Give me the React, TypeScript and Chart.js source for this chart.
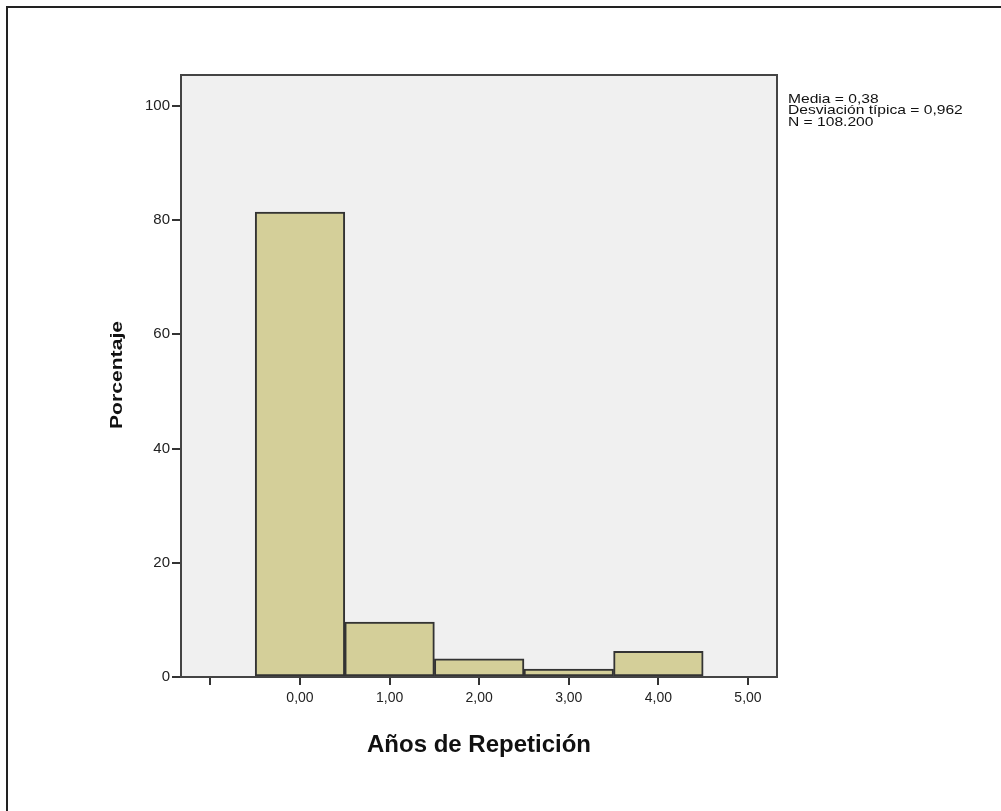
import React, { useEffect, useRef } from "react";
import { Chart, registerables } from "chart.js";

Chart.register(...registerables);

const binCenters = [0, 1, 2, 3, 4];
const percentages = [81.4, 9.6, 3.2, 1.4, 4.5];
const xTickValues = [-1, 0, 1, 2, 3, 4, 5];
const yTickValues = [0, 20, 40, 60, 80, 100];
const statsLines = ["Media = 0,38", "Desviación típica = 0,962", "N = 108.200"];
const xTitle = "Años de Repetición";
const yTitle = "Porcentaje";

const FONT = "Arial, 'Liberation Sans', sans-serif";

export default function App() {
  const ref = useRef<HTMLCanvasElement | null>(null);

  useEffect(() => {
    if (!ref.current) return;

    const decor = {
      id: "decor",
      beforeDraw(chart: any) {
        const { ctx, chartArea: a } = chart;
        ctx.save();
        ctx.fillStyle = "#ffffff";
        ctx.fillRect(0, 0, chart.width, chart.height);
        ctx.fillStyle = "#f0f0f0";
        ctx.fillRect(a.left, a.top, a.right - a.left, a.bottom - a.top);
        ctx.strokeStyle = "#222";
        ctx.lineWidth = 2;
        ctx.beginPath();
        ctx.moveTo(7, 811);
        ctx.lineTo(7, 7);
        ctx.lineTo(1001, 7);
        ctx.stroke();
        ctx.restore();
      },
      afterDatasetsDraw(chart: any) {
        const { ctx, chartArea: a } = chart;
        ctx.save();
        ctx.strokeStyle = "#444";
        ctx.lineWidth = 2;
        ctx.strokeRect(a.left, a.top, a.right - a.left, a.bottom - a.top);
        ctx.restore();
      },
      afterDraw(chart: any) {
        const { ctx, chartArea: a } = chart;
        ctx.save();
        ctx.fillStyle = "#111";
        ctx.font = `bold 24px ${FONT}`;
        ctx.textAlign = "center";
        ctx.textBaseline = "middle";
        ctx.fillText(xTitle, (a.left + a.right) / 2, 745);
        ctx.save();
        ctx.translate(118, 375);
        ctx.rotate(-Math.PI / 2);
        ctx.scale(1.32, 1);
        ctx.font = `bold 16px ${FONT}`;
        ctx.fillText(yTitle, 0, 0);
        ctx.restore();
        ctx.font = `13px ${FONT}`;
        ctx.textAlign = "left";
        statsLines.forEach((line, i) => {
          ctx.save();
          ctx.translate(a.right + 11, 99 + i * 11.5);
          ctx.scale(1.2, 1);
          ctx.fillText(line, 0, 0);
          ctx.restore();
        });
        ctx.restore();
      },
    };

    const chart = new Chart(ref.current, {
      type: "bar",
      data: {
        datasets: [
          {
            data: binCenters.map((x, i) => ({ x, y: percentages[i] })),
            backgroundColor: "#d4cf99",
            borderColor: "#333",
            borderWidth: 2,
            borderSkipped: false,
            categoryPercentage: 1,
            barPercentage: 1,
          },
        ],
      },
      options: {
        animation: false,
        responsive: false,
        events: [],
        layout: { padding: { top: 75, right: 224, left: 0, bottom: 0 } },
        plugins: {
          legend: { display: false },
          tooltip: { enabled: false },
          title: { display: false },
        },
        scales: {
          x: {
            type: "linear",
            min: -1.328,
            max: 5.324,
            offset: false,
            afterBuildTicks: (s: any) => {
              s.ticks = xTickValues.map((v) => ({ value: v }));
            },
            afterFit: (s: any) => {
              s.height = 134;
            },
            grid: {
              offset: false,
              drawOnChartArea: false,
              drawTicks: true,
              tickLength: 8,
              lineWidth: 2,
              color: "#333",
            },
            border: { display: false },
            ticks: {
              autoSkip: false,
              maxRotation: 0,
              padding: 5,
              color: "#222",
              font: { family: FONT, size: 14 },
              callback: (v: any) => (Number(v) < 0 ? "" : Number(v).toFixed(2).replace(".", ",")),
            },
          },
          y: {
            type: "linear",
            min: 0,
            max: 105.4,
            afterBuildTicks: (s: any) => {
              s.ticks = yTickValues.map((v) => ({ value: v }));
            },
            afterFit: (s: any) => {
              s.width = 181;
            },
            grid: {
              drawOnChartArea: false,
              drawTicks: true,
              tickLength: 9,
              lineWidth: 2,
              color: "#333",
            },
            border: { display: false },
            ticks: {
              padding: 2,
              color: "#222",
              font: { family: FONT, size: 15 },
              callback: (v: any) => String(v),
            },
          },
        },
      },
      plugins: [decor],
    });

    return () => chart.destroy();
  }, []);

  return (
    <div style={{ position: "absolute", left: 0, top: 0, width: 1001, height: 811, overflow: "hidden", background: "#fff" }}>
      <canvas ref={ref} width={1001} height={811} style={{ display: "block", width: 1001, height: 811 }} />
    </div>
  );
}
